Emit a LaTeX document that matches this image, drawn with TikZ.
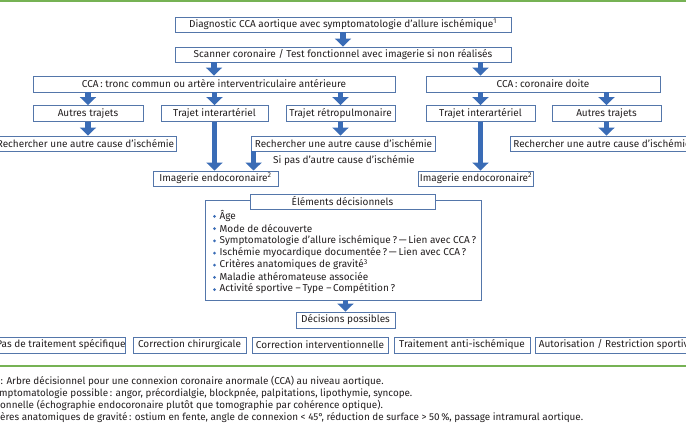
\documentclass[tikz,border=0pt]{standalone}
\usepackage{fontspec}
\setmainfont{Fira Sans}
\usetikzlibrary{arrows.meta,calc}
\definecolor{boxblue}{RGB}{84,118,170}
\definecolor{arrblue}{RGB}{58,108,182}
\definecolor{lgreen}{RGB}{118,178,84}
\definecolor{txt}{RGB}{35,31,32}
\begin{document}
\begin{tikzpicture}[x=1pt,y=-1pt,
  box/.style={draw=boxblue, line width=0.9pt, fill=white, text=txt, inner sep=0pt,
    minimum height=15pt, font=\fontsize{10}{11}\selectfont},
  arr/.style={draw=arrblue, line width=5.5pt, -{Triangle[width=16pt,length=8pt]}},
  plain/.style={text=txt, inner sep=0pt, font=\fontsize{10}{11}\selectfont},
  captxt/.style={text=txt, inner sep=0pt, anchor=base west, font=\fontsize{9.9}{11}\selectfont}]
\useasboundingbox (0,0) rectangle (686,430);
\fill[white] (0,0) rectangle (686,430);
\fill[lgreen] (0,0) rectangle (686,2.5);
\draw[lgreen, line width=1.6pt] (0,366) -- (686,366);

% top boxes
\node[box, minimum width=336pt] (diag) at (343,24.5) {Diagnostic CCA aortique avec symptomatologie d’allure ischémique\textsuperscript{1}};
\node[box, minimum width=336pt] (scan) at (343,54.5) {Scanner coronaire / Test fonctionnel avec imagerie si non réalisés};
\node[box, minimum width=362pt, minimum height=16pt] (ccaL) at (214,84) {CCA\,: tronc commun ou artère interventriculaire antérieure};
\node[box, minimum width=234pt, minimum height=16pt] (ccaR) at (543,84) {CCA\,: coronaire doite};

% row 4
\node[box, minimum width=110pt, minimum height=16pt] (autL) at (88,113.5) {Autres trajets};
\node[box, minimum width=107pt, minimum height=16pt] (intL) at (214.5,113.5) {Trajet interartériel};
\node[box, minimum width=109pt, minimum height=16pt] (retro) at (340.5,113.5) {Trajet rétropulmonaire};
\node[box, minimum width=109pt, minimum height=16pt] (intR) at (480.5,113.5) {Trajet interartériel};
\node[box, minimum width=109pt, minimum height=16pt] (autR) at (606.5,113.5) {Autres trajets};

% row 5
\node[box, minimum width=182pt] (rechL) at (85.5,143.5) {Rechercher une autre cause d’ischémie};
\node[box, minimum width=184pt] (rechM) at (343.5,143.5) {Rechercher une autre cause d’ischémie};
\node[box, minimum width=184pt] (rechR) at (602,143.5) {Rechercher une autre cause d’ischémie};
\node[plain, anchor=west] (sipas) at (273,160.5) {Si pas d’autre cause d’ischémie};

% imagerie
\node[box, minimum width=125pt] (imgL) at (215.5,178.5) {Imagerie endocoronaire\textsuperscript{2}};
\node[box, minimum width=115pt] (imgR) at (476,178.5) {Imagerie endocoronaire\textsuperscript{2}};

% elements
\node[draw=boxblue, line width=0.9pt, minimum width=276pt, minimum height=100pt, inner sep=0pt] (elem) at (343,250) {};
\node[box, minimum width=185pt] (elemh) at (342.5,201.5) {Éléments décisionnels};
\foreach \t [count=\i] in {%
  Âge,
  Mode de découverte,
  Symptomatologie d’allure ischémique\,?\,—\,Lien avec CCA\,?,
  Ischémie myocardique documentée\,?\,—\,Lien avec CCA\,?,
  Critères anatomiques de gravité\textsuperscript{3},
  Maladie athéromateuse associée,
  Activité sportive –\,Type –\,Compétition\,?}{
  \node[plain, anchor=west] (e\i) at (219.5,{216+12.17*(\i-1)}) {\t};
  \fill[arrblue] (214.5,{216.5+12.17*(\i-1)}) circle (1.5pt);
}

% decisions
\node[box, minimum width=128pt, minimum height=16pt] (d1) at (61,345) {Pas de traitement spécifique};
\node[box, minimum width=99pt, minimum height=16pt] (dec) at (345.5,320) {Décisions possibles};
\node[box, minimum width=113pt, minimum height=16pt] (d2) at (189.5,345) {Correction chirurgicale};
\node[box, minimum width=136pt, minimum height=16pt] (d3) at (320,345) {Correction interventionnelle};
\node[box, minimum width=136pt, minimum height=16pt] (d4) at (462,345) {Traitement anti-ischémique};
\node[box, minimum width=162pt, minimum height=16pt] (d5) at (616.5,345) {Autorisation / Restriction sportive};

% arrows
\draw[arr] (diag.south) -- (scan.north);
\draw[arr] (scan.south -| ccaL) -- (ccaL.north);
\draw[arr] (scan.south -| intR) -- (ccaR.north -| intR);
\draw[arr] (ccaL.south -| autL) -- (autL.north);
\draw[arr] (ccaL.south -| intL) -- (intL.north);
\draw[arr] (ccaL.south -| retro) -- (retro.north);
\draw[arr] (ccaR.south -| intR) -- (intR.north);
\draw[arr] (ccaR.south -| autR) -- (autR.north);
\draw[arr] (autL.south) -- (rechL.north -| autL);
\draw[arr] (retro.south) -- (rechM.north -| retro);
\draw[arr] (autR.south) -- (rechR.north -| autR);
\draw[arr] (intL.south) -- (imgL.north -| intL);
\draw[arr] (intR.south) -- (imgR.north -| intR);
\coordinate (rm) at ($(rechM.south west)+(2.5,0)$);
\draw[arr] (rm) -- (rm |- imgL.north);
\draw[arr] (elem.south -| dec) -- (dec.north);

% caption
\node[captxt] (c1) at (0.5,384.5) {: Arbre décisionnel pour une connexion coronaire anormale (CCA) au niveau aortique.};
\node[captxt] (c2) at (-1,396.5) {mptomatologie possible\,: angor, précordialgie, blockpnée, palpitations, lipothymie, syncope.};
\node[captxt] (c3) at (0,408.5) {onnelle (échographie endocoronaire plutôt que tomographie par cohérence optique).};
\node[captxt] (c4) at (0,420.5) {ères anatomiques de gravité\,: ostium en fente, angle de connexion < 45°, réduction de surface > 50\,\%, passage intramural aortique.};
\end{tikzpicture}
\end{document}
